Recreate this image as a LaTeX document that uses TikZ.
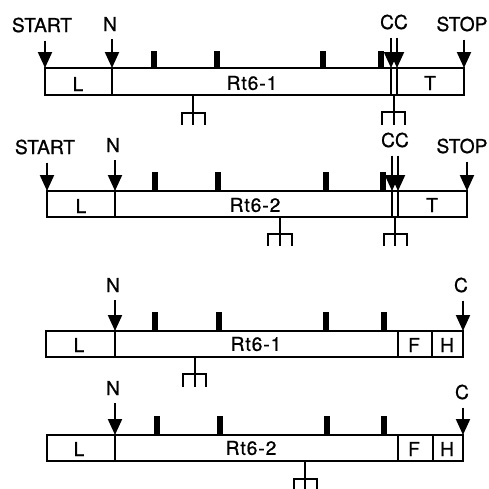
\documentclass[tikz,border=0pt]{standalone}
\usepackage{fontspec}
\setmainfont[FakeBold=0.8]{TeX Gyre Heros}
\newfontfamily\segfont[LetterSpace=5,FakeBold=0.8]{TeX Gyre Heros}
\usetikzlibrary{arrows.meta}

\begin{document}
\begin{tikzpicture}[x=0.5pt,y=-0.5pt,
  box/.style={draw=black, line width=1.1pt},
  seg/.style={draw=black, line width=1pt},
  tick/.style={line width=2.6pt},
  fork/.style={line width=1.1pt},
  pointer/.style={-{Triangle[length=8pt,width=7pt]}, line width=1pt, shorten <=4pt},
  lbl/.style={inner sep=0pt, font=\fontsize{9.6}{11}\selectfont},
  seglbl/.style={inner sep=0pt, font=\fontsize{9.6}{11}\segfont}]
\useasboundingbox (0,0) rectangle (489,489);

% construct 1
\draw[box] (45,68) rectangle (464,95);
\draw[seg] (112,68) -- (112,95);
\draw[seg] (391,68) -- (391,95) (397,68) -- (397,95);
\foreach \x in {154,217,323,381} \draw[tick] (\x,68) -- (\x,51);
\draw[fork] (193,95) -- (193,125) (182,125) -- (182,113) -- (205,113) -- (205,125);
\draw[fork] (394,95) -- (394,125) (382,125) -- (382,112) -- (405,112) -- (405,125);
\node[seglbl] (l1) at (78,84) {L};
\node[seglbl] (rt1) at (252,83) {Rt6-1};
\node[seglbl] (t1) at (430,83) {T};
\node[lbl] (start1) at (42,25) {START};
\node[lbl] (n1) at (110,24) {N};
\node[lbl] (cc1) at (394,22) {CC};
\node[lbl] (stop1) at (462,24) {STOP};
\coordinate (start1t) at (45,68);
\coordinate (n1t) at (112,68);
\coordinate (cc1a) at (391,68);
\coordinate (cc1b) at (397,68);
\coordinate (stop1t) at (464,68);
\draw[pointer] (start1.south -| start1t) -- (start1t);
\draw[pointer] (n1.south -| n1t) -- (n1t);
\draw[pointer] (cc1.south -| cc1a) -- (cc1a);
\draw[pointer] (cc1.south -| cc1b) -- (cc1b);
\draw[pointer] (stop1.south -| stop1t) -- (stop1t);

% construct 2
\draw[box] (47,191) rectangle (467,217);
\draw[seg] (115,191) -- (115,217);
\draw[seg] (392,191) -- (392,217) (398,191) -- (398,217);
\foreach \x in {155,218,326,383} \draw[tick] (\x,191) -- (\x,172);
\draw[fork] (280,217) -- (280,246) (268,246) -- (268,234) -- (292,234) -- (292,246);
\draw[fork] (395,217) -- (395,246) (384,246) -- (384,234) -- (407,234) -- (407,246);
\node[seglbl] (l2) at (81,206) {L};
\node[seglbl] (rt2) at (255,205) {Rt6-2};
\node[seglbl] (t2) at (432,205) {T};
\node[lbl] (start2) at (45,147) {START};
\node[lbl] (n2) at (113,145) {N};
\node[lbl] (cc2) at (395,140) {CC};
\node[lbl] (stop2) at (462,146) {STOP};
\coordinate (start2t) at (47,191);
\coordinate (n2t) at (115,191);
\coordinate (cc2a) at (392,191);
\coordinate (cc2b) at (398,191);
\coordinate (stop2t) at (467,191);
\draw[pointer] (start2.south -| start2t) -- (start2t);
\draw[pointer] (n2.south -| n2t) -- (n2t);
\draw[pointer] (cc2.south -| cc2a) -- (cc2a);
\draw[pointer] (cc2.south -| cc2b) -- (cc2b);
\draw[pointer] (stop2.south -| stop2t) -- (stop2t);

% construct 3
\draw[box] (46,331) rectangle (463,357);
\draw[seg] (115,331) -- (115,357) (398,331) -- (398,357) (432,331) -- (432,357);
\foreach \x in {155,219,326,384} \draw[tick] (\x,331) -- (\x,312);
\draw[fork] (195,357) -- (195,387) (183,387) -- (183,374) -- (206,374) -- (206,387);
\node[seglbl] (l3) at (79,345) {L};
\node[seglbl] (rt3) at (256,344) {Rt6-1};
\node[seglbl] (f3) at (414,345) {F};
\node[seglbl] (h3) at (447,345) {H};
\node[lbl] (n3) at (113,285) {N};
\node[lbl] (c3) at (461,285) {C};
\coordinate (n3t) at (115,331);
\coordinate (c3t) at (463,331);
\draw[pointer] (n3.south -| n3t) -- (n3t);
\draw[pointer] (c3.south -| c3t) -- (c3t);

% construct 4
\draw[box] (47,435) rectangle (463,461);
\draw[seg] (115,435) -- (115,461) (398,435) -- (398,461) (433,435) -- (433,461);
\foreach \x in {157,220,327,384} \draw[tick] (\x,435) -- (\x,416);
\draw[fork] (305,461) -- (305,489) (294,489) -- (294,479) -- (317,479) -- (317,489);
\node[seglbl] (l4) at (79,449) {L};
\node[seglbl] (rt4) at (251,448) {Rt6-2};
\node[seglbl] (f4) at (414,449) {F};
\node[seglbl] (h4) at (447,449) {H};
\node[lbl] (n4) at (113,388) {N};
\node[lbl] (c4) at (462,392) {C};
\coordinate (n4t) at (115,435);
\coordinate (c4t) at (463,435);
\draw[pointer] (n4.south -| n4t) -- (n4t);
\draw[pointer] (c4.south -| c4t) -- (c4t);
\end{tikzpicture}
\end{document}
